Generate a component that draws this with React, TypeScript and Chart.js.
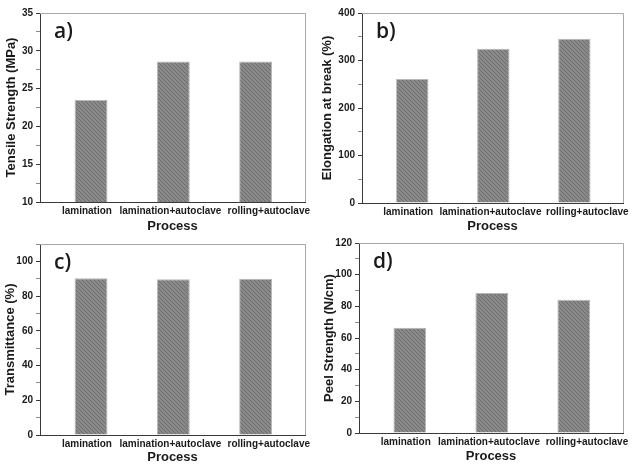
import React, { useEffect, useRef } from "react";
import { Chart, registerables } from "chart.js";

Chart.register(...registerables);

// Shared category axis
const processes = ["lamination", "lamination+autoclave", "rolling+autoclave"];
// Where each category label sits along the x axis (bars sit at 1, 2, 3)
const processLabelAt = [0.95, 1.965, 3.16];

// Panel a) tensile strength
const tensileStrength = [23.5, 28.6, 28.6];
const tensileTicks = [10, 15, 20, 25, 30, 35];

// Panel b) elongation at break
const elongation = [261, 325, 346];
const elongationTicks = [0, 100, 200, 300, 400];

// Panel c) transmittance
const transmittance = [90.3, 89.7, 90.0];
const transmittanceTicks = [0, 20, 40, 60, 80, 100];

// Panel d) peel strength
const peelStrength = [66.5, 88.4, 84.2];
const peelTicks = [0, 20, 40, 60, 80, 100, 120];

type PanelSpec = {
  tag: string;
  yTitle: string;
  values: number[];
  labelTicks: number[];
  yMin: number;
  yMax: number;
  minorStep: number;
  left: number;
  top: number;
  // layout of the plot box inside the panel canvas
  axisWidth: number;
  axisHeight: number;
  padTop: number;
  padBottom: number;
  titleOffset: number;
};

const PANEL_W = 318;
const PANEL_H = 234;

const panels: PanelSpec[] = [
  {
    tag: "a)", yTitle: "Tensile Strength (MPa)", values: tensileStrength, labelTicks: tensileTicks,
    yMin: 10, yMax: 35, minorStep: 2.5, left: 0, top: 0,
    axisWidth: 40, axisHeight: 32, padTop: 13, padBottom: 0, titleOffset: 4,
  },
  {
    tag: "b)", yTitle: "Elongation at break (%)", values: elongation, labelTicks: elongationTicks,
    yMin: 0, yMax: 400, minorStep: 50, left: 318, top: 0,
    axisWidth: 44, axisHeight: 31, padTop: 13, padBottom: 0, titleOffset: 2,
  },
  {
    tag: "c)", yTitle: "Transmittance (%)", values: transmittance, labelTicks: transmittanceTicks,
    yMin: 0, yMax: 110, minorStep: 10, left: 0, top: 234,
    axisWidth: 40, axisHeight: 30, padTop: 10, padBottom: 3, titleOffset: 3,
  },
  {
    tag: "d)", yTitle: "Peel Strength (N/cm)", values: peelStrength, labelTicks: peelTicks,
    yMin: 0, yMax: 120, minorStep: 10, left: 318, top: 234,
    axisWidth: 41, axisHeight: 31, padTop: 9, padBottom: 4, titleOffset: 4,
  },
];

function makeHatch(): CanvasPattern | string {
  const tile = document.createElement("canvas");
  tile.width = 4;
  tile.height = 4;
  const g = tile.getContext("2d");
  if (!g) return "#808080";
  g.fillStyle = "#8a8a8a";
  g.fillRect(0, 0, 4, 4);
  g.strokeStyle = "#6c6c6c";
  g.lineWidth = 1;
  g.beginPath();
  g.moveTo(-1, -1);
  g.lineTo(5, 5);
  g.moveTo(-1, 3);
  g.lineTo(1, 5);
  g.moveTo(3, -1);
  g.lineTo(5, 1);
  g.stroke();
  const p = g.createPattern(tile, "repeat");
  return p ?? "#808080";
}

// Gray top/right frame and the panel tag
const framePlugin = {
  id: "panelFrame",
  afterDraw(chart: any, _args: any, opts: any) {
    const { ctx, chartArea } = chart;
    const { left, top, right, bottom } = chartArea;
    ctx.save();
    ctx.strokeStyle = "#a8a8a8";
    ctx.lineWidth = 1;
    ctx.beginPath();
    ctx.moveTo(left, top + 0.5);
    ctx.lineTo(right + 0.5, top + 0.5);
    ctx.lineTo(right + 0.5, bottom);
    ctx.stroke();
    ctx.fillStyle = "#1a1a1a";
    ctx.font = "600 21px 'Open Sans', sans-serif";
    ctx.textBaseline = "middle";
    ctx.textAlign = "left";
    ctx.fillText(opts.tag, left + 14, top + 19);
    ctx.restore();
  },
};

function Panel({ spec }: { spec: PanelSpec }) {
  const ref = useRef<HTMLCanvasElement | null>(null);
  useEffect(() => {
    const canvas = ref.current;
    if (!canvas) return;
    const hatch = makeHatch();
    const points = spec.values.map((v, i) => ({ x: i + 1, y: v }));
    const chart = new Chart(canvas, {
      type: "bar",
      data: {
        datasets: [
          {
            data: points as any,
            backgroundColor: hatch as any,
            borderColor: "#b8b8b8",
            borderWidth: 1,
            categoryPercentage: 1,
            barPercentage: 0.4,
          },
        ],
      },
      options: {
        responsive: false,
        animation: false,
        devicePixelRatio: 1,
        layout: { padding: { left: 0, right: PANEL_W - 305, top: spec.padTop, bottom: spec.padBottom } },
        plugins: {
          legend: { display: false },
          tooltip: { enabled: false },
          panelFrame: { tag: spec.tag },
        } as any,
        scales: {
          x: {
            type: "linear",
            min: 0.38,
            max: 3.6,
            offset: false,
            grid: { display: false, drawTicks: false, offset: false },
            border: { display: true, color: "#3a3a3a", width: 1 },
            afterFit: (scale: any) => { scale.height = spec.axisHeight; },
            afterBuildTicks: (scale: any) => {
              scale.ticks = processLabelAt.map((value) => ({ value }));
            },
            ticks: {
              autoSkip: false,
              maxRotation: 0,
              padding: 3,
              color: "#1a1a1a",
              font: { family: "'Liberation Sans', Arial, sans-serif", size: 10, weight: "bold" },
              callback: (v: any) => processes[Math.round(Number(v)) - 1] ?? "",
            },
            title: {
              display: true,
              text: "Process",
              color: "#1a1a1a",
              padding: { top: 0, bottom: 0 },
              font: { family: "'Liberation Sans', Arial, sans-serif", size: 13, weight: "bold" },
            },
          },
          y: {
            type: "linear",
            min: spec.yMin,
            max: spec.yMax,
            grid: {
              display: true,
              drawOnChartArea: false,
              drawTicks: true,
              tickLength: 4,
              tickColor: (c: any) =>
                spec.labelTicks.includes(c.tick?.value) ? "#3a3a3a" : "#8a8a8a",
            },
            border: { display: true, color: "#3a3a3a", width: 1 },
            afterFit: (scale: any) => { scale.width = spec.axisWidth; },
            ticks: {
              stepSize: spec.minorStep,
              autoSkip: false,
              padding: 3,
              color: "#1a1a1a",
              font: { family: "'Liberation Sans', Arial, sans-serif", size: 10, weight: "bold" },
              callback: (v: any) => (spec.labelTicks.includes(Number(v)) ? String(v) : ""),
            },
            title: {
              display: true,
              text: spec.yTitle,
              color: "#1a1a1a",
              padding: { top: spec.titleOffset, bottom: 0 },
              font: { family: "'Liberation Sans', Arial, sans-serif", size: 13, weight: "bold" },
            },
          },
        },
      },
      plugins: [framePlugin],
    });
    return () => chart.destroy();
  }, [spec]);

  return (
    <canvas
      ref={ref}
      width={PANEL_W}
      height={PANEL_H}
      style={{ position: "absolute", left: spec.left, top: spec.top, width: PANEL_W, height: PANEL_H }}
    />
  );
}

export default function App() {
  return (
    <div
      style={{
        position: "absolute",
        left: 0,
        top: 0,
        width: 636,
        height: 468,
        background: "#ffffff",
        overflow: "hidden",
      }}
    >
      {panels.map((p) => (
        <Panel key={p.tag} spec={p} />
      ))}
    </div>
  );
}
